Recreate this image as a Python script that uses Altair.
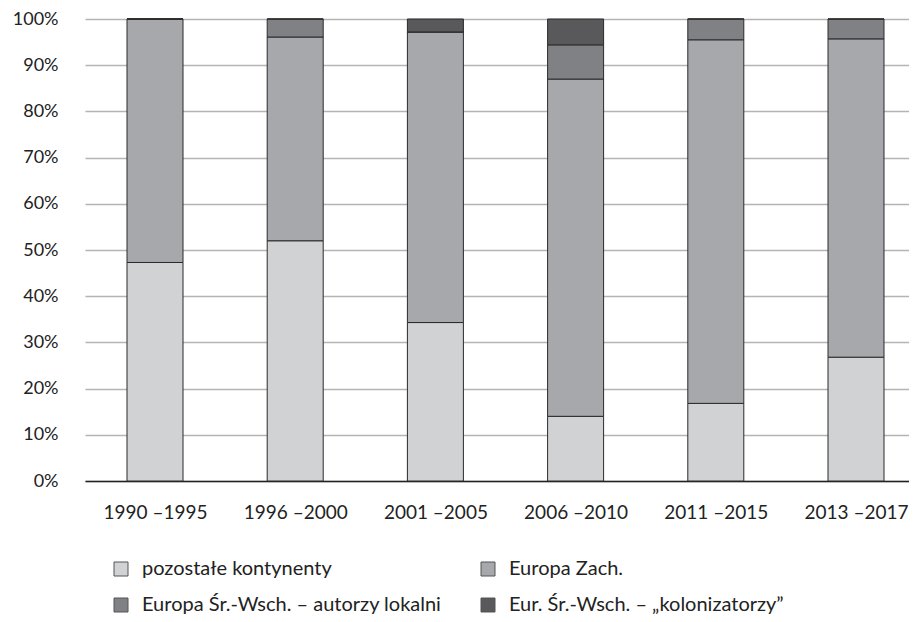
import altair as alt
import pandas as pd

periods = ["1990 –1995", "1996 –2000", "2001 –2005", "2006 –2010", "2011 –2015", "2013 –2017"]
categories = ["pozostałe kontynenty", "Europa Zach.", "Europa Śr.-Wsch. – autorzy lokalni", "Eur. Śr.-Wsch.  – „kolonizatorzy”"]
colors = ["#d1d2d4", "#a7a8ab", "#808184", "#59595b"]

pozostale = [47.3, 52.0, 34.3, 14.0, 16.8, 26.8]
zach = [52.7, 44.1, 62.9, 73.0, 78.7, 68.9]
lokalni = [0.0, 3.9, 0.0, 7.4, 4.5, 4.3]
kolon = [0.0, 0.0, 2.8, 5.6, 0.0, 0.0]

series = [pozostale, zach, lokalni, kolon]
rows = []
for ci, (cat, vals) in enumerate(zip(categories, series)):
    for pi, (p, v) in enumerate(zip(periods, vals)):
        rows.append({"idx": pi, "okres": p, "kategoria": cat, "wartosc": v / 100.0, "kolejnosc": ci})
df = pd.DataFrame(rows)

FONT = "Lato"
label_expr = "[" + ",".join("'" + p + "'" for p in periods) + "][datum.value]"

chart = alt.Chart(df).mark_bar(stroke="#2a2a2a", strokeWidth=1, size=56).encode(
    x=alt.X("idx:Q",
            scale=alt.Scale(domain=[-0.4993, 5.378], nice=False, zero=False, padding=0),
            axis=alt.Axis(title=None, labelAngle=0, ticks=False, grid=False,
                          values=list(range(len(periods))), labelExpr=label_expr,
                          domainColor="#222222", domainWidth=1.5, labelPadding=22,
                          labelFontSize=19, labelColor="#222222", labelFont=FONT,
                          labelFlush=False)),
    y=alt.Y("wartosc:Q", stack="zero",
            scale=alt.Scale(domain=[0, 1], nice=False),
            axis=alt.Axis(title=None, format="%", values=[i / 10 for i in range(11)],
                          ticks=False, domain=False, gridColor="#b4b4b4", gridWidth=1.5,
                          labelPadding=27, labelFontSize=18, labelColor="#222222",
                          labelFont=FONT)),
    color=alt.Color("kategoria:N", sort=categories,
                    scale=alt.Scale(domain=categories, range=colors),
                    legend=alt.Legend(title=None, orient="none", legendX=26, legendY=540,
                                      columns=2, direction="horizontal", columnPadding=36,
                                      rowPadding=16,
                                      symbolType="square", symbolSize=196,
                                      symbolStrokeColor="#555555", symbolStrokeWidth=1,
                                      labelFontSize=20, labelFont=FONT, labelColor="#222222",
                                      labelOffset=11, labelLimit=400, padding=0)),
    order=alt.Order("kolejnosc:Q", sort="ascending"),
    tooltip=["okres:N", "kategoria:N", alt.Tooltip("wartosc:Q", format=".1%")],
).properties(
    width=824, height=462,
    autosize=alt.AutoSizeParams(type="none"),
    padding={"left": 77, "top": 11, "right": 0, "bottom": 133},
).configure_view(stroke=None)

chart.save("out.html", embed_options={"renderer": "svg", "actions": False})
